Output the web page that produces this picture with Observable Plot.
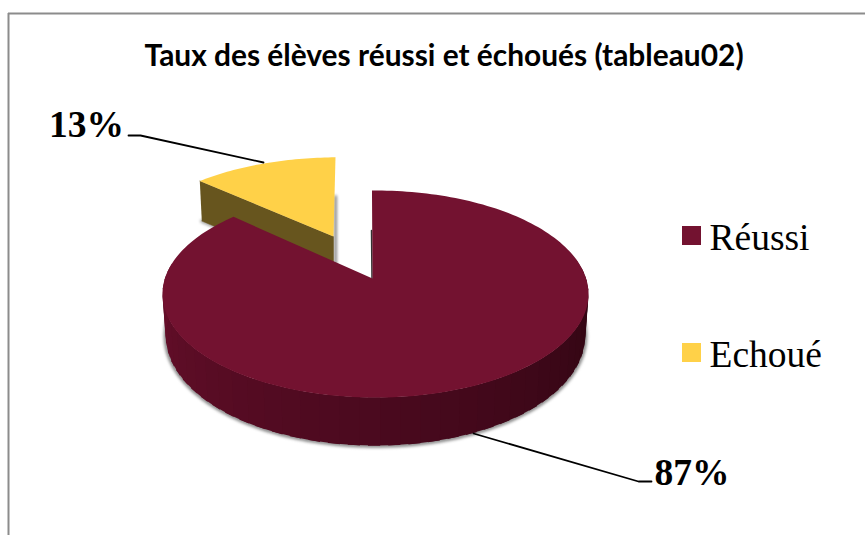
<!DOCTYPE html>
<html>
<head>
<meta charset="utf-8">
<style>html,body{margin:0;padding:0;background:#fff;overflow:hidden}svg{display:block}</style>
<script src="https://cdn.jsdelivr.net/npm/d3@7"></script>
<script src="https://cdn.jsdelivr.net/npm/@observablehq/plot@0.6"></script>
</head>
<body>
<script>
const categories = ["Réussi", "Echoué"];
const shares = [87, 13];
const colors = ["#731230", "#FFD148"];
const titleText = "Taux des élèves réussi et échoués (tableau02)";

const slices = d3.pie().sort(null)(shares);
const rot = -1.1 * Math.PI / 180;

// Perspective view of the pie disc
const K = 0.15, A = 210.6, B = 101.2;
const project = t => {
  const u = Math.sin(t + rot), v = Math.cos(t + rot), d = 1 + K * v;
  return [375 + A * u / d, 278 - B * v / d];
};
const lower = ([x, y]) => [375 + (x - 375) * 0.985, 335.5 + (y - 293.5) * 1.06];
const arc = (a0, a1, n = 120) => d3.range(n + 1).map(i => project(a0 + (a1 - a0) * i / n));

const main = slices[0], minor = slices[1];
const apex = [372, 278];
const mainFace = [apex, ...arc(main.startAngle, main.endAngle, 200)];

// Exploded slice
const sApex = [333, 236];
const shift = ([x, y]) => [335.5 + (x - 372) * 0.98, sApex[1] + (y - apex[1]) * 0.9];
const minorArc = arc(minor.startAngle, minor.endAngle, 40).map(shift);
const minorFace = [sApex, ...minorArc];
const minorLeft = minorArc[0];
const minorSide = [minorLeft, sApex, [sApex[0], sApex[1] + 40], [minorLeft[0] + 2, minorLeft[1] + 40]];

// Shaded rim of the large slice
const nStrips = 42, rimStart = 80 * Math.PI / 180, rimEnd = 280 * Math.PI / 180;
const step = (rimEnd - rimStart) / nStrips;
const shade = d3.scaleLinear().domain([0, 0.45, 1]).range(["#2c0510", "#47091d", "#690f2b"]);
const rim = d3.range(nStrips).flatMap(i => {
  const t0 = rimStart + step * i;
  const t1 = t0 + step * 1.6; // overlap the next strip so that no seam shows
  const p0 = project(t0), p1 = project(Math.min(t1, rimEnd));
  const c = shade((i + 0.5) / nStrips);
  return [p0, p1, lower(p1), lower(p0), p0].map(([x, y]) => ({id: i, c, x, y}));
});
const rimOutline = arc(rimStart, rimEnd, 100).map(lower);

const px = d => d[0], py = d => d[1];
const legend = categories.map((name, i) => ({name, color: colors[i], top: 226 + i * 117}));
const labels = [
  {text: shares[1] + "%", x: 48.5, y: 136},
  {text: shares[0] + "%", x: 654, y: 484}
];
const leaders = [
  [[128, 135], [140, 135], [263, 162]],
  [[473, 433], [638, 481], [651, 481]]
];
const serif = "'Liberation Serif', serif";

const chart = Plot.plot({
  width: 865, height: 535, margin: 0,
  style: {background: "#fff"},
  x: {domain: [0, 865], range: [0, 865], axis: null},
  y: {domain: [0, 535], range: [0, 535], axis: null},
  color: {type: "identity"},
  marks: [
    // frame
    Plot.ruleX([8], {y1: 13, y2: 535, stroke: "#8c8c8c", strokeWidth: 2}),
    Plot.ruleY([13], {x1: 8, x2: 865, stroke: "#8c8c8c", strokeWidth: 2}),
    // exploded slice
    Plot.line([[minorLeft[0] + 2, minorLeft[1] + 40], [sApex[0], sApex[1] + 40]], {x: px, y: py, stroke: "#999", strokeWidth: 3, imageFilter: "blur(1.5px)"}),
    Plot.line([[sApex[0] + 2, sApex[1] - 40], [sApex[0] + 2, sApex[1] + 42]], {x: px, y: py, stroke: "#888", strokeWidth: 3, imageFilter: "blur(1.5px)"}),
    Plot.line(minorSide, {x: px, y: py, fill: "#67551e", stroke: "#67551e", strokeWidth: 0.5}),
    Plot.line(minorFace, {x: px, y: py, fill: colors[1]}),
    // large slice
    Plot.line(rimOutline, {x: px, y: py, stroke: "#888", strokeWidth: 4, imageFilter: "blur(1.5px)"}),
    Plot.line([[apex[0] - 1, 230], [apex[0] - 0.5, apex[1]]], {x: px, y: py, stroke: "#333", strokeWidth: 1.5, imageFilter: "blur(0.6px)"}),
    Plot.line(rim, {x: "x", y: "y", z: "id", fill: "c"}),
    Plot.line(mainFace, {x: px, y: py, fill: colors[0]}),
    // leaders
    ...leaders.map(l => Plot.line(l, {x: px, y: py, stroke: "#000", strokeWidth: 1.8})),
    // title and labels
    Plot.text([titleText], {x: 144, y: 65, text: d => d, textAnchor: "start", lineAnchor: "bottom", fontFamily: "Lato, sans-serif", fontWeight: 700, fontSize: 29.9, fill: "#000"}),
    Plot.text(labels, {x: "x", y: "y", text: "text", textAnchor: "start", lineAnchor: "bottom", fontFamily: serif, fontWeight: 700, fontSize: 37.5, fill: "#000"}),
    // legend
    Plot.rect(legend, {x1: () => 682, x2: () => 701, y1: "top", y2: d => d.top + 19, fill: "color"}),
    Plot.text(legend, {x: () => 709, y: d => d.top + 23, text: "name", textAnchor: "start", lineAnchor: "bottom", fontFamily: serif, fontSize: 37.5, fill: "#000"})
  ]
});
document.body.appendChild(chart);
</script>
</body>
</html>
